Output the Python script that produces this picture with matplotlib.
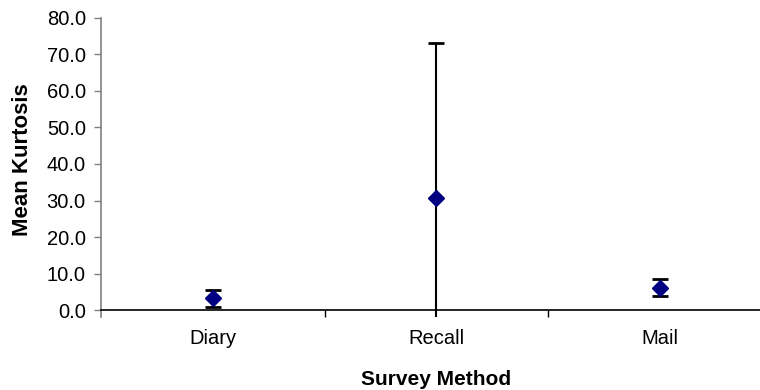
import matplotlib.pyplot as plt
from matplotlib.patches import Rectangle
from matplotlib.ticker import FormatStrFormatter

methods = ["Diary", "Recall", "Mail"]
mean_kurtosis = [3.2, 30.8, 6.15]
err = [2.3, 42.3, 2.25]

plt.rcParams['font.family'] = ['Liberation Sans', 'DejaVu Sans']

fig = plt.figure(figsize=(7.6, 3.9), dpi=100)
ax = fig.add_axes([0.133, 0.205, 0.882, 0.749])

xs = list(range(1, len(methods) + 1))
markers, caps, bars = ax.errorbar(xs, mean_kurtosis, yerr=err, fmt='D', color='#000080',
                                  ms=8.5, ecolor='black', elinewidth=1.5, capsize=6,
                                  capthick=2, zorder=3)
# excel lets the bar poke a little below the axis
clip = Rectangle((0, -0.025), 1, 1.1, transform=ax.transAxes, facecolor='none', edgecolor='none')
for b in bars:
    b.set_clip_path(clip)
for c in caps:
    c.set_clip_path(clip)

ax.set_xlim(0.5, 3.5)
ax.set_ylim(0, 80)
ax.set_yticks(range(0, 81, 10))
ax.yaxis.set_major_formatter(FormatStrFormatter('%.1f'))
ax.set_xticks(xs)
ax.set_xticklabels(methods)
ax.set_xticks([1.5, 2.5], minor=True)
ax.tick_params(axis='x', which='major', length=0, pad=14, labelsize=14.5)
ax.tick_params(axis='x', which='minor', length=5, width=1, color='black')
ax.tick_params(axis='y', length=5, width=1, color='#808080', labelsize=14.5, pad=6)

for s in ['top', 'right']:
    ax.spines[s].set_visible(False)
ax.spines['left'].set_color('#808080')
ax.spines['left'].set_linewidth(1.2)
ax.spines['bottom'].set_color('black')
ax.spines['bottom'].set_linewidth(1.2)
ax.spines['left'].set_bounds(-2, 80)
ax.spines['left'].set_clip_on(False)

ax.set_xlabel("Survey Method", fontweight='bold', fontsize=15)
ax.set_ylabel("Mean Kurtosis", fontweight='bold', fontsize=16)
ax.xaxis.set_label_coords(0.5, -0.205)
ax.yaxis.set_label_coords(-0.1015, 0.514)

fig.savefig("out.png", dpi=100)
